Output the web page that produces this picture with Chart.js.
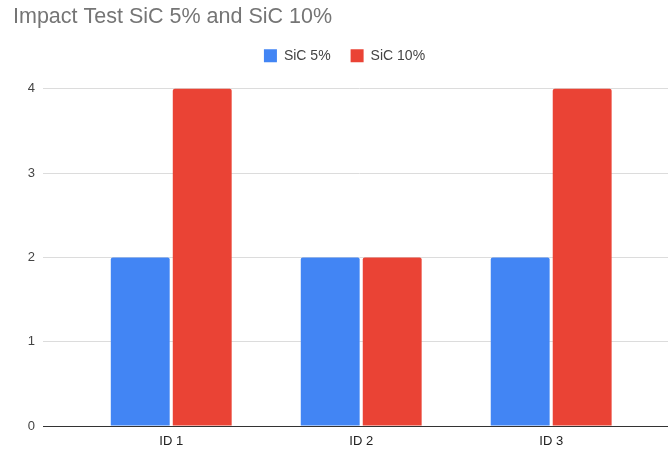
<!DOCTYPE html>
<html>
<head>
<meta charset="utf-8">
<script src="https://cdn.jsdelivr.net/npm/chart.js@4"></script>
<style>
  html, body { margin: 0; padding: 0; background: #fff; overflow: hidden; }
  #wrap { width: 676px; height: 450px; }
</style>
</head>
<body>
<div id="wrap"><canvas id="impactChart" width="676" height="450"></canvas></div>
<script>
const categories = ["ID 1", "ID 2", "ID 3"];
const sic5 = [2, 2, 2];
const sic10 = [4, 2, 4];
const yTicks = [0, 1, 2, 3, 4];

const ctx = document.getElementById("impactChart").getContext("2d");
const chart = new Chart(ctx, {
  type: "bar",
  data: {
    labels: categories,
    datasets: [
      { label: "SiC 5%", data: sic5, backgroundColor: "#4285F4", borderRadius: 2, borderSkipped: "bottom" },
      { label: "SiC 10%", data: sic10, backgroundColor: "#EA4335", borderRadius: 2, borderSkipped: "bottom" }
    ]
  },
  options: {
    responsive: false,
    animation: false,
    devicePixelRatio: 1,
    categoryPercentage: 0.6526,
    barPercentage: 0.95,
    layout: { padding: { left: 13, right: 0, top: 0, bottom: 0 } },
    plugins: {
      title: {
        display: true,
        text: "Impact Test SiC 5% and SiC 10%",
        align: "start",
        color: "#757575",
        font: { family: "'Liberation Sans', Arial, sans-serif", size: 21.5, weight: "normal", lineHeight: 1 },
        padding: { top: 6, bottom: 1.3 }
      },
      legend: {
        position: "top",
        labels: {
          boxWidth: 13,
          boxHeight: 13,
          padding: 20,
          color: "#444",
          font: { family: "'Liberation Sans', Arial, sans-serif", size: 14 }
        }
      },
      tooltip: { enabled: false }
    },
    scales: {
      x: {
        grid: { display: false, drawTicks: false },
        border: { display: true, color: "#333", width: 1 },
        ticks: {
          color: "#222",
          padding: 8,
          font: { family: "'Liberation Sans', Arial, sans-serif", size: 13 }
        },
        afterFit: (scale) => { scale.height = 24; },
        afterBuildTicks: (scale) => {
          // centre the groups the way the reference does, leaving room left of ID 1
          scale._startValue = -0.675;
          scale._valueRange = 3.332;
        }
      },
      y: {
        min: 0,
        max: 4.19,
        afterBuildTicks: (scale) => {
          scale.ticks = yTicks.map(v => ({ value: v }));
        },
        afterFit: (scale) => { scale.width = 30; },
        grid: { color: "#dcdcdc", drawTicks: false },
        border: { display: false },
        ticks: {
          color: "#444",
          padding: 8,
          font: { family: "'Liberation Sans', Arial, sans-serif", size: 13 }
        }
      }
    }
  }
});
</script>
</body>
</html>
